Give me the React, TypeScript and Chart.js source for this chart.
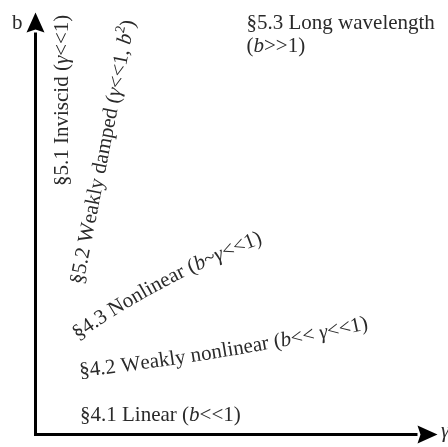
import React, { useEffect, useRef } from 'react';
import { Chart, registerables } from 'chart.js';

Chart.register(...registerables);

// ---------- data (diagram units: γ to the right, b upward) ----------
const GAMMA_AXIS_END = 382;
const B_AXIS_END = 402;
const AXIS_POINTS = [
  { x: 0, y: B_AXIS_END },
  { x: 0, y: 0 },
  { x: GAMMA_AXIS_END, y: 0 },
];

type Run = [string, 'r' | 'i' | 'sup'];

// text of each label, split into roman / italic / superscript runs
const LABEL_RUNS: Run[][] = [
  [['b', 'r']],
  [['γ', 'i']],
  [['§5.3 Long wavelength', 'r']],
  [['(', 'r'], ['b', 'i'], ['>>1)', 'r']],
  [['§4.1 Linear (', 'r'], ['b', 'i'], ['<<1)', 'r']],
  [['§5.1 Inviscid (', 'r'], ['γ', 'i'], ['<<1)', 'r']],
  [['§5.2 Weakly damped (', 'r'], ['γ', 'i'], ['<<1, ', 'r'], ['b', 'i'], ['2', 'sup'], [')', 'r']],
  [['§4.3 Nonlinear (', 'r'], ['b', 'i'], ['~', 'r'], ['γ', 'i'], ['<<1)', 'r']],
  [['§4.2 Weakly nonlinear (', 'r'], ['b', 'i'], ['<< ', 'r'], ['γ', 'i'], ['<<1)', 'r']],
];

// baseline of each label in diagram units (start, [bend], end)
const LABEL_PATHS: number[][][] = [
  [[-23.5, 406], [40, 406]],
  [[405.5, -2.5], [460, -2.5]],
  [[211, 406], [420, 406]],
  [[211, 382.5], [320, 382.5]],
  [[44.5, 14], [300, 14]],
  [[32.5, 248.5], [32.5, 440]],
  [[47.5, 149.5], [75, 289.5], [102.5, 429.5]],
  [[42.5, 94.5], [134.5, 158.5], [236.5, 194.5]],
  [[44.5, 57.5], [193.5, 74.5], [342.5, 107.5]],
];

// ---------- styles ----------
const FONT = "'Liberation Serif', 'Times New Roman', serif";
const FONT_SIZE = 21;
const TEXT_COLOR = '#2a2a2a';
const ARROW_LEN = 20;
const ARROW_HALF = 9;
const ARROW_NOTCH = 3;

function fontFor(style: string) {
  if (style === 'i') return `italic ${FONT_SIZE}px ${FONT}`;
  if (style === 'sup') return `${Math.round(FONT_SIZE * 0.68)}px ${FONT}`;
  return `${FONT_SIZE}px ${FONT}`;
}

function samplePath(p: number[][]) {
  const p0 = p[0];
  const p2 = p[p.length - 1];
  const p1 = p.length === 3 ? p[1] : [(p0[0] + p2[0]) / 2, (p0[1] + p2[1]) / 2];
  const N = 400;
  const pts: number[][] = [];
  const lens: number[] = [0];
  for (let i = 0; i <= N; i++) {
    const t = i / N;
    const a = (1 - t) * (1 - t), b = 2 * (1 - t) * t, c = t * t;
    pts.push([a * p0[0] + b * p1[0] + c * p2[0], a * p0[1] + b * p1[1] + c * p2[1]]);
    if (i > 0) {
      const dx = pts[i][0] - pts[i - 1][0];
      const dy = pts[i][1] - pts[i - 1][1];
      lens.push(lens[i - 1] + Math.hypot(dx, dy));
    }
  }
  return (s: number) => {
    let i = 1;
    while (i < N && lens[i] < s) i++;
    const segLen = lens[i] - lens[i - 1] || 1;
    const f = (s - lens[i - 1]) / segLen;
    const dx = pts[i][0] - pts[i - 1][0];
    const dy = pts[i][1] - pts[i - 1][1];
    return {
      x: pts[i - 1][0] + dx * f,
      y: pts[i - 1][1] + dy * f,
      a: Math.atan2(dy, dx),
    };
  };
}

function drawArrow(ctx: CanvasRenderingContext2D, fx: number, fy: number, tx: number, ty: number) {
  const dx = tx - fx;
  const dy = ty - fy;
  const L = Math.hypot(dx, dy) || 1;
  const ux = dx / L, uy = dy / L;
  const px = -uy, py = ux;
  ctx.save();
  ctx.fillStyle = '#000';
  ctx.beginPath();
  ctx.moveTo(tx + ux * ARROW_LEN, ty + uy * ARROW_LEN);
  ctx.lineTo(tx + px * ARROW_HALF, ty + py * ARROW_HALF);
  ctx.lineTo(tx + ux * ARROW_NOTCH, ty + uy * ARROW_NOTCH);
  ctx.lineTo(tx - px * ARROW_HALF, ty - py * ARROW_HALF);
  ctx.closePath();
  ctx.fill();
  ctx.restore();
}

const diagramPlugin = {
  id: 'diagram',
  beforeDraw(chart: any) {
    const { ctx, width, height } = chart;
    ctx.save();
    ctx.fillStyle = '#ffffff';
    ctx.fillRect(0, 0, width, height);
    ctx.restore();
  },
  afterDatasetsDraw(chart: any) {
    const { ctx, scales } = chart;
    const xs = scales.x, ys = scales.y;
    const P = AXIS_POINTS.map((p) => [xs.getPixelForValue(p.x), ys.getPixelForValue(p.y)]);
    drawArrow(ctx, P[1][0], P[1][1], P[0][0], P[0][1]);
    drawArrow(ctx, P[1][0], P[1][1], P[2][0], P[2][1]);

    ctx.save();
    ctx.fillStyle = TEXT_COLOR;
    ctx.textBaseline = 'alphabetic';
    ctx.textAlign = 'left';
    LABEL_RUNS.forEach((runs, li) => {
      const path = LABEL_PATHS[li].map((p) => [xs.getPixelForValue(p[0]), ys.getPixelForValue(p[1])]);
      const at = samplePath(path);
      let s = 0;
      runs.forEach(([text, style]) => {
        ctx.font = fontFor(style);
        for (const ch of Array.from(text)) {
          const w = ctx.measureText(ch).width;
          const m = at(s + w / 2);
          ctx.save();
          ctx.translate(m.x, m.y);
          ctx.rotate(m.a);
          ctx.fillText(ch, -w / 2, style === 'sup' ? -FONT_SIZE * 0.4 : 0);
          ctx.restore();
          s += w;
        }
      });
    });
    ctx.restore();
  },
};

export default function App() {
  const ref = useRef<HTMLCanvasElement | null>(null);
  useEffect(() => {
    document.body.style.margin = '0';
    const canvas = ref.current;
    if (!canvas) return;
    const chart = new Chart(canvas, {
      type: 'scatter',
      data: {
        datasets: [
          {
            data: AXIS_POINTS,
            showLine: true,
            borderColor: '#000',
            borderWidth: 3,
            pointRadius: 0,
            borderJoinStyle: 'miter',
            borderCapStyle: 'butt',
            fill: false,
            tension: 0,
          } as any,
        ],
      },
      options: {
        animation: false,
        responsive: false,
        devicePixelRatio: 1,
        events: [],
        layout: { padding: 0 },
        plugins: { legend: { display: false }, tooltip: { enabled: false } },
        scales: {
          x: { type: 'linear', min: -35.5, max: 412.5, display: false },
          y: { type: 'linear', min: -12.5, max: 434.5, display: false },
        },
      },
      plugins: [diagramPlugin],
    });
    return () => chart.destroy();
  }, []);
  return (
    <div style={{ position: 'fixed', left: 0, top: 0, width: 448, height: 447, background: '#fff' }}>
      <canvas ref={ref} width={448} height={447} style={{ display: 'block' }} />
    </div>
  );
}
